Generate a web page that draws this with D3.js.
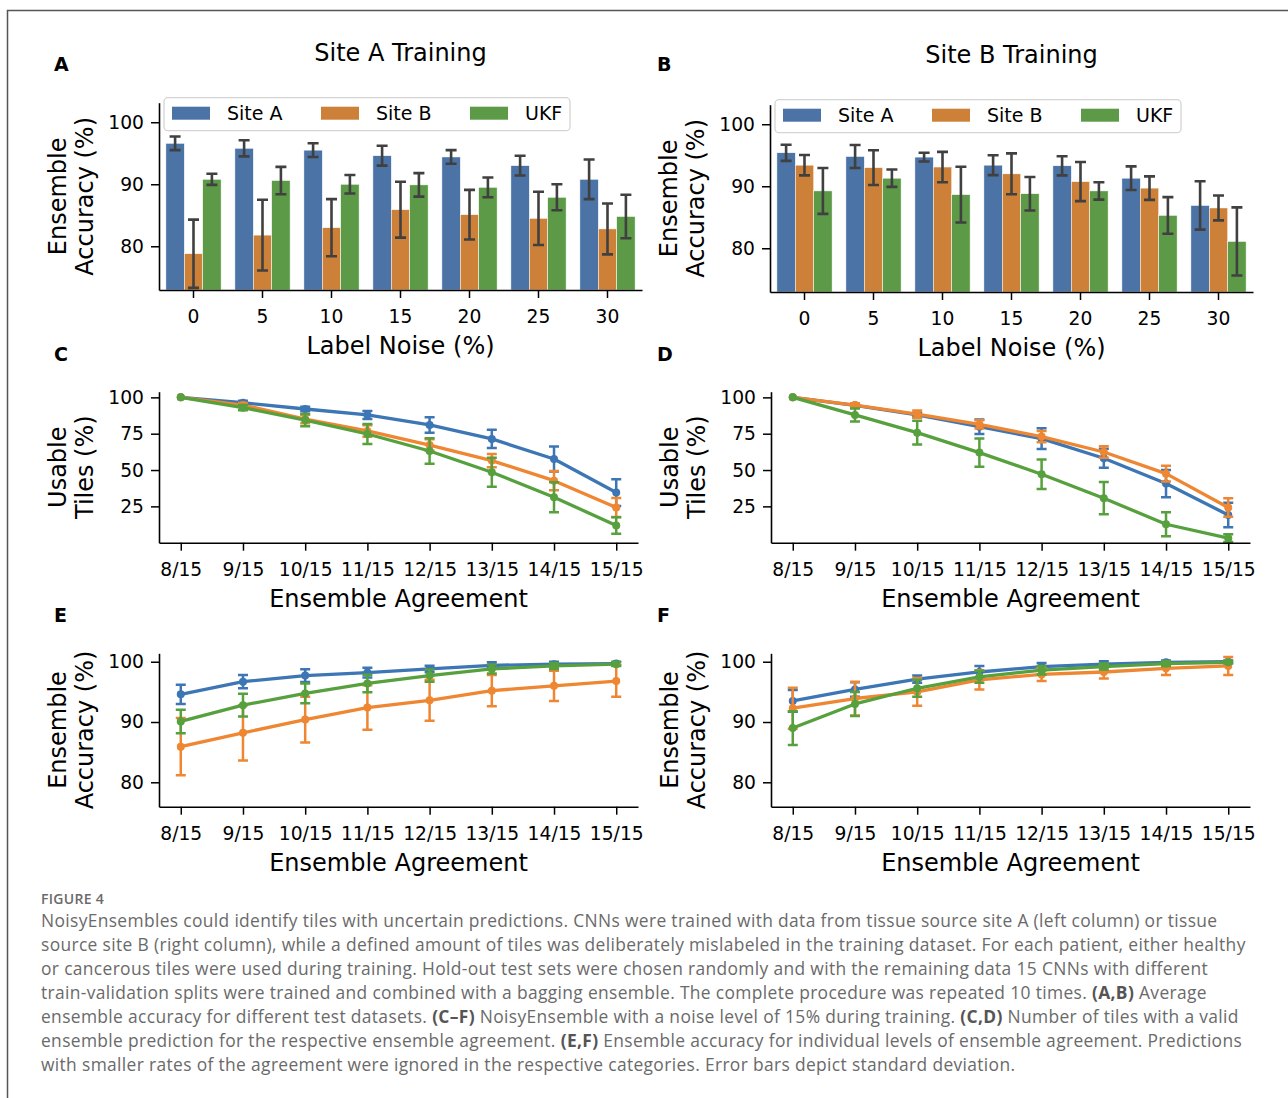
<!DOCTYPE html>
<html>
<head>
<meta charset="utf-8">
<script src="https://cdn.jsdelivr.net/npm/d3@7"></script>
<style>
body { margin: 0; background: #fff; }
svg text { font-family: "DejaVu Sans", sans-serif; }
</style>
</head>
<body>
<svg id="fig" width="1288" height="1098"></svg>
<script>
// ---- data ----
const noiseLevels = [0, 5, 10, 15, 20, 25, 30];
const agreementLabels = ["8/15", "9/15", "10/15", "11/15", "12/15", "13/15", "14/15", "15/15"];
const seriesNames = ["Site A", "Site B", "UKF"];

// A: trained on site A, ensemble accuracy (%) per label noise
const accA_siteA = [96.6, 95.8, 95.5, 94.6, 94.4, 93.0, 90.8];
const accA_siteA_sd = [1.1, 1.3, 1.1, 1.6, 1.1, 1.6, 3.2];
const accA_siteB = [78.8, 81.8, 83.0, 85.9, 85.1, 84.5, 82.8];
const accA_siteB_sd = [5.5, 5.7, 4.6, 4.5, 4.0, 4.3, 4.1];
const accA_ukf = [90.8, 90.6, 90.0, 89.9, 89.5, 87.9, 84.8];
const accA_ukf_sd = [0.9, 2.2, 1.5, 1.9, 1.6, 2.1, 3.5];

// B: trained on site B
const accB_siteA = [95.4, 94.8, 94.7, 93.4, 93.3, 91.3, 86.9];
const accB_siteA_sd = [1.3, 1.85, 0.7, 1.6, 1.55, 1.9, 3.9];
const accB_siteB = [93.4, 93.0, 93.1, 92.0, 90.75, 89.7, 86.5];
const accB_siteB_sd = [1.65, 2.8, 2.45, 3.3, 3.15, 1.9, 2.0];
const accB_ukf = [89.25, 91.3, 88.65, 88.8, 89.25, 85.3, 81.1];
const accB_ukf_sd = [3.7, 1.4, 4.5, 2.7, 1.4, 2.95, 5.5];

// C: usable tiles (%), site A training
const tilesC_siteA = [100, 96.3, 92.0, 87.9, 81.0, 71.4, 57.6, 34.5];
const tilesC_siteA_sd = [0, 1.4, 1.6, 2.7, 5.3, 6.3, 8.6, 9.2];
const tilesC_siteB = [100, 94.7, 85.1, 76.9, 67.2, 56.5, 42.7, 24.2];
const tilesC_siteB_sd = [0, 1.5, 2.9, 4.0, 3.9, 4.6, 6.6, 6.5];
const tilesC_ukf = [100, 92.9, 84.4, 74.8, 63.1, 48.5, 31.3, 11.8];
const tilesC_ukf_sd = [0, 1.8, 4.2, 6.9, 8.7, 10.0, 10.3, 5.7];

// D: usable tiles (%), site B training
const tilesD_siteA = [100, 94.5, 87.9, 79.8, 71.6, 58.1, 40.7, 19.1];
const tilesD_siteA_sd = [0, 1.5, 1.6, 5.0, 7.2, 6.6, 9.4, 8.4];
const tilesD_siteB = [100, 94.7, 88.5, 81.4, 73.0, 62.4, 47.5, 24.2];
const tilesD_siteB_sd = [0, 1.2, 2.5, 2.9, 3.8, 3.9, 5.4, 6.3];
const tilesD_ukf = [100, 87.9, 75.7, 62.0, 47.1, 30.6, 12.7, 3.1];
const tilesD_ukf_sd = [0, 4.5, 8.2, 9.7, 10.1, 11.1, 8.2, 2.7];

// E: ensemble accuracy (%) per agreement, site A training
const accE_siteA = [94.6, 96.7, 97.7, 98.2, 98.8, 99.4, 99.6, 99.7];
const accE_siteA_sd = [1.6, 1.1, 1.05, 0.8, 0.55, 0.5, 0.4, 0.3];
const accE_siteB = [85.9, 88.2, 90.4, 92.4, 93.6, 95.2, 96.0, 96.8];
const accE_siteB_sd = [4.75, 4.6, 3.8, 3.7, 3.4, 2.6, 2.5, 2.6];
const accE_ukf = [90.1, 92.8, 94.75, 96.4, 97.7, 98.8, 99.3, 99.6];
const accE_ukf_sd = [1.95, 1.9, 1.65, 1.45, 1.0, 0.75, 0.5, 0.3];

// F: ensemble accuracy (%) per agreement, site B training
const accF_siteA = [93.5, 95.4, 97.1, 98.3, 99.2, 99.6, 99.9, 100.0];
const accF_siteA_sd = [1.8, 1.2, 0.6, 1.0, 0.6, 0.5, 0.3, 0.2];
const accF_siteB = [92.3, 93.9, 95.0, 97.0, 97.9, 98.3, 98.9, 99.3];
const accF_siteB_sd = [3.4, 2.8, 2.3, 1.6, 1.1, 1.1, 1.1, 1.5];
const accF_ukf = [89.0, 93.0, 95.6, 97.5, 98.6, 99.2, 99.7, 99.9];
const accF_ukf_sd = [2.8, 2.0, 1.4, 1.0, 0.7, 0.5, 0.4, 0.2];

const captionLines = [
    "NoisyEnsembles could identify tiles with uncertain predictions. CNNs were trained with data from tissue source site A (left column) or tissue",
    "source site B (right column), while a defined amount of tiles was deliberately mislabeled in the training dataset. For each patient, either healthy",
    "or cancerous tiles were used during training. Hold-out test sets were chosen randomly and with the remaining data 15 CNNs with different",
    "train-validation splits were trained and combined with a bagging ensemble. The complete procedure was repeated 10 times. **(A,B)** Average",
    "ensemble accuracy for different test datasets. **(C\u2013F)** NoisyEnsemble with a noise level of 15% during training. **(C,D)** Number of tiles with a valid",
    "ensemble prediction for the respective ensemble agreement. **(E,F)** Ensemble accuracy for individual levels of ensemble agreement. Predictions",
    "with smaller rates of the agreement were ignored in the respective categories. Error bars depict standard deviation."
];

const barColors = ["#4b73a6", "#cd8038", "#5c9a47"];
const lineColors = ["#3c76b4", "#ee8632", "#56a03e"];

const svg = d3.select("#fig");
const tickFont = 18.7;
const labelFont = 24;

// frame line around the figure
svg.append("path")
    .attr("d", "M7.5,1098 L7.5,10.5 L1288,10.5")
    .attr("fill", "none")
    .attr("stroke", "#555")
    .attr("stroke-width", 1.5);

function styleAxis(g) {
    g.attr("font-family", "DejaVu Sans").attr("font-size", tickFont);
    g.select(".domain").attr("stroke-width", 1.6);
    g.selectAll(".tick line").attr("stroke-width", 1.5);
}

function panelLetter(x, y, t) {
    svg.append("text").attr("x", x).attr("y", y)
        .attr("font-size", 19).attr("font-weight", "bold")
        .text(t);
}

function yLabel(axisX, midY, lines) {
    const t = svg.append("text")
        .attr("transform", `translate(${axisX - 93},${midY}) rotate(-90)`)
        .attr("text-anchor", "middle")
        .attr("font-size", labelFont);
    lines.forEach(function(l, i) {
        t.append("tspan").attr("x", 0).attr("y", i * 27).text(l);
    });
}

function xLabel(cx, y, txt) {
    svg.append("text").attr("x", cx).attr("y", y)
        .attr("text-anchor", "middle").attr("font-size", labelFont)
        .text(txt);
}

function barPanel(cfg) {
    const x0 = d3.scaleBand().domain(noiseLevels).range([cfg.left, cfg.right])
        .paddingInner(0.2).paddingOuter(0.1);
    const x1 = d3.scaleBand().domain(d3.range(3)).range([0, x0.bandwidth()]);
    const y = d3.scaleLinear().domain([72.95, 103.15]).range([cfg.bottom, cfg.top]);

    const g = svg.append("g");
    cfg.means.forEach(function(vals, s) {
        const sd = cfg.sds[s];
        g.selectAll(null).data(vals).enter().append("rect")
            .attr("x", (d, i) => x0(noiseLevels[i]) + x1(s))
            .attr("width", x1.bandwidth())
            .attr("y", d => y(d))
            .attr("height", d => cfg.bottom - y(d))
            .attr("fill", barColors[s])
            .attr("stroke", "#fff").attr("stroke-width", 0.5);
        g.selectAll(null).data(vals).enter().append("path")
            .attr("d", function(d, i) {
                const cx = x0(noiseLevels[i]) + x1(s) + x1.bandwidth() / 2;
                const lo = y(d - sd[i]), hi = y(d + sd[i]);
                return `M${cx},${lo}V${hi}M${cx - 5.5},${hi}H${cx + 5.5}M${cx - 5.5},${lo}H${cx + 5.5}`;
            })
            .attr("fill", "none").attr("stroke", "#404040").attr("stroke-width", 2.6);
    });

    svg.append("g").attr("transform", `translate(${cfg.left},0)`)
        .call(d3.axisLeft(y).tickValues([80, 90, 100]).tickSize(8).tickPadding(7).tickSizeOuter(0))
        .call(styleAxis);
    svg.append("g").attr("transform", `translate(0,${cfg.bottom})`)
        .call(d3.axisBottom(x0).tickSize(8).tickPadding(12).tickSizeOuter(0))
        .call(styleAxis);

    // legend
    const lg = svg.append("g").attr("transform", `translate(${cfg.left + 5},${cfg.top - 5})`);
    lg.append("rect").attr("width", 406).attr("height", 33).attr("rx", 4)
        .attr("fill", "#fff").attr("fill-opacity", 0.85)
        .attr("stroke", "#d4d4d4").attr("stroke-width", 1.3);
    seriesNames.forEach(function(name, s) {
        lg.append("rect").attr("x", 8 + s * 149).attr("y", 9)
            .attr("width", 38).attr("height", 13).attr("fill", barColors[s]);
        lg.append("text").attr("x", 63 + s * 149).attr("y", 22)
            .attr("font-size", 19).text(name);
    });

    svg.append("text").attr("x", (cfg.left + cfg.right) / 2).attr("y", cfg.top - 42)
        .attr("text-anchor", "middle").attr("font-size", labelFont).text(cfg.title);
    yLabel(cfg.left, (cfg.top + cfg.bottom) / 2, ["Ensemble", "Accuracy (%)"]);
    xLabel((cfg.left + cfg.right) / 2, cfg.bottom + 64, "Label Noise (%)");
}

function linePanel(cfg) {
    const x = d3.scaleLinear().domain([-0.35, 7.35]).range([cfg.left, cfg.right]);
    const y = d3.scaleLinear().domain(cfg.domain).range([cfg.bottom, cfg.top]);
    const line = d3.line().x((d, i) => x(i)).y(d => y(d));

    const g = svg.append("g");
    cfg.means.forEach(function(vals, s) {
        const sd = cfg.sds[s];
        const col = lineColors[s];
        g.append("path").datum(vals).attr("d", line)
            .attr("fill", "none").attr("stroke", col).attr("stroke-width", 3.3)
            .attr("stroke-linejoin", "round");
        g.selectAll(null).data(vals).enter().filter((d, i) => sd[i] > 0).append("path")
            .attr("d", function(d) {
                const i = vals.indexOf(d);
                const cx = x(i), lo = y(d - sd[i]), hi = y(d + sd[i]);
                return `M${cx},${lo}V${hi}M${cx - 5},${hi}H${cx + 5}M${cx - 5},${lo}H${cx + 5}`;
            })
            .attr("fill", "none").attr("stroke", col).attr("stroke-width", 2.5);
        g.selectAll(null).data(vals).enter().append("circle")
            .attr("cx", (d, i) => x(i)).attr("cy", d => y(d)).attr("r", 4)
            .attr("fill", col);
    });

    svg.append("g").attr("transform", `translate(${cfg.left},0)`)
        .call(d3.axisLeft(y).tickValues(cfg.ticks).tickSize(8).tickPadding(7).tickSizeOuter(0))
        .call(styleAxis);
    svg.append("g").attr("transform", `translate(0,${cfg.bottom})`)
        .call(d3.axisBottom(x).tickValues(d3.range(8)).tickFormat(i => agreementLabels[i])
            .tickSize(8).tickPadding(12).tickSizeOuter(0))
        .call(styleAxis);

    yLabel(cfg.left, (cfg.top + cfg.bottom) / 2, cfg.ylabel);
    xLabel((cfg.left + cfg.right) / 2, cfg.bottom + 64, "Ensemble Agreement");
}

// ---- panels ----
panelLetter(54, 71, "A");
barPanel({left: 159, right: 642, top: 102.7, bottom: 290, title: "Site A Training",
    means: [accA_siteA, accA_siteB, accA_ukf], sds: [accA_siteA_sd, accA_siteB_sd, accA_ukf_sd]});
panelLetter(657, 71, "B");
barPanel({left: 770, right: 1253, top: 104.7, bottom: 292, title: "Site B Training",
    means: [accB_siteA, accB_siteB, accB_ukf], sds: [accB_siteA_sd, accB_siteB_sd, accB_ukf_sd]});

panelLetter(54, 361, "C");
linePanel({left: 159, right: 638, top: 391.7, bottom: 542.7, domain: [0, 103.9], ticks: [25, 50, 75, 100],
    ylabel: ["Usable", "Tiles (%)"],
    means: [tilesC_siteA, tilesC_siteB, tilesC_ukf], sds: [tilesC_siteA_sd, tilesC_siteB_sd, tilesC_ukf_sd]});
panelLetter(657, 361, "D");
linePanel({left: 771, right: 1250, top: 391.7, bottom: 542.7, domain: [0, 103.9], ticks: [25, 50, 75, 100],
    ylabel: ["Usable", "Tiles (%)"],
    means: [tilesD_siteA, tilesD_siteB, tilesD_ukf], sds: [tilesD_siteA_sd, tilesD_siteB_sd, tilesD_ukf_sd]});

panelLetter(54, 622, "E");
linePanel({left: 159, right: 638, top: 653.3, bottom: 806.7, domain: [75.95, 101.4], ticks: [80, 90, 100],
    ylabel: ["Ensemble", "Accuracy (%)"],
    means: [accE_siteA, accE_siteB, accE_ukf], sds: [accE_siteA_sd, accE_siteB_sd, accE_ukf_sd]});
panelLetter(657, 622, "F");
linePanel({left: 771, right: 1250, top: 653.3, bottom: 806.7, domain: [75.95, 101.4], ticks: [80, 90, 100],
    ylabel: ["Ensemble", "Accuracy (%)"],
    means: [accF_siteA, accF_siteB, accF_ukf], sds: [accF_siteA_sd, accF_siteB_sd, accF_ukf_sd]});

// ---- caption ----
svg.append("text").attr("x", 41).attr("y", 904)
    .style("font-family", "'Open Sans', sans-serif").attr("font-size", 14)
    .attr("font-weight", 600).attr("letter-spacing", 0.3)
    .attr("fill", "#6a6a6a").text("FIGURE 4");

captionLines.forEach(function(line, k) {
    const t = svg.append("text").attr("x", 41).attr("y", 927 + k * 24)
        .style("font-family", "'Open Sans', sans-serif").attr("font-size", 17.4)
        .attr("letter-spacing", 0.35)
        .attr("fill", "#6a6a6a");
    line.split(/(\*\*.*?\*\*)/).forEach(function(part) {
        if (!part) return;
        const bold = part.startsWith("**");
        t.append("tspan")
            .attr("font-weight", bold ? "bold" : null)
            .attr("fill", bold ? "#555" : null)
            .text(bold ? part.slice(2, -2) : part);
    });
});
</script>
</body>
</html>
